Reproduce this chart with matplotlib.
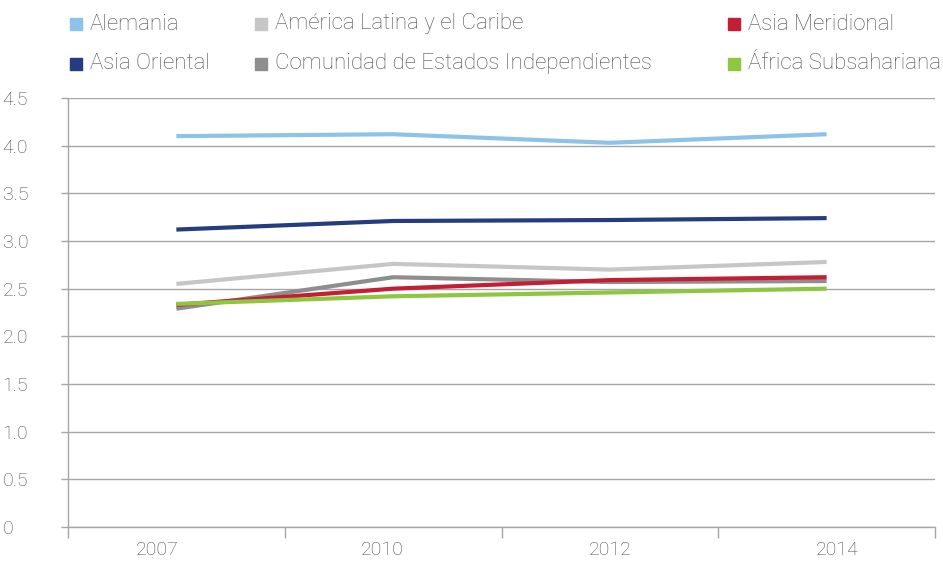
import matplotlib

matplotlib.use("Agg")
import matplotlib.pyplot as plt
from matplotlib.patches import Rectangle

plt.rcParams.update({"font.family": ["Roboto", "DejaVu Sans"], "font.weight": "light"})

years = ["2007", "2010", "2012", "2014"]
y_ticks = [0, 0.5, 1.0, 1.5, 2.0, 2.5, 3.0, 3.5, 4.0, 4.5]
y_labels = ["0", "0.5", "1.0", "1.5", "2.0", "2.5", "3.0", "3.5", "4.0", "4.5"]

alemania = [4.10, 4.12, 4.03, 4.12]
asia_oriental = [3.12, 3.21, 3.22, 3.24]
america_latina = [2.55, 2.76, 2.70, 2.78]
cei = [2.29, 2.62, 2.57, 2.58]
asia_meridional = [2.33, 2.50, 2.59, 2.62]
africa_sub = [2.34, 2.42, 2.46, 2.50]

series = [
    ("Alemania", alemania, "#8DC3E9"),
    ("Asia Oriental", asia_oriental, "#253C80"),
    ("América Latina y el Caribe", america_latina, "#C6C6C6"),
    ("Comunidad de Estados Independientes", cei, "#8E8E8E"),
    ("Asia Meridional", asia_meridional, "#C41E34"),
    ("África Subsahariana", africa_sub, "#8DC63F"),
]

text_color = "#4f4f4f"
axis_color = "#a6a6a6"

fig = plt.figure(figsize=(9.43, 5.61), dpi=100)
W, H = 943, 561
ax = fig.add_axes([68 / W, 1 - 527 / H, (935 - 68) / W, (527 - 98) / H])

x = range(len(years))
for name, vals, color in series:
    ax.plot(x, vals, color=color, lw=3.0, solid_capstyle="butt", zorder=3)

ax.set_xlim(-0.5, len(years) - 0.5)
ax.set_ylim(0, 4.5)
ax.set_yticks(y_ticks)
ax.set_yticklabels(y_labels)
# year labels sit slightly off the category centres, spread evenly
ax.set_xticks([-0.09, 0.95, 2.0, 3.05])
ax.set_xticklabels(years)
ax.set_xticks([i - 0.5 for i in range(len(years) + 1)], minor=True)
ax.tick_params(axis="x", which="major", length=0, pad=10, labelsize=14, colors=text_color)
ax.tick_params(axis="x", which="minor", length=8, width=1, color=axis_color, direction="out")
ax.tick_params(axis="y", length=5, width=1, color=axis_color, pad=42, labelsize=14,
               labelcolor=text_color)
for lbl in ax.get_yticklabels():
    lbl.set_horizontalalignment("left")

ax.grid(axis="y", color=axis_color, lw=1)
ax.set_axisbelow(True)
for side in ("top", "right"):
    ax.spines[side].set_visible(False)
for side in ("left", "bottom"):
    ax.spines[side].set_color(axis_color)
    ax.spines[side].set_linewidth(1)

# legend laid out in three columns above the plot
legend_pos = [(70, 24), (70, 64), (255, 24), (255, 64), (728, 24), (728, 64)]
for (name, vals, color), (lx, ly) in zip(series, legend_pos):
    fig.patches.append(Rectangle((lx / W, 1 - (ly + 6) / H), 12 / W, 12 / H,
                                 transform=fig.transFigure, color=color))
    fig.text((lx + 20) / W, 1 - ly / H, name, fontsize=16, color=text_color,
             va="center", ha="left")

fig.savefig("out.png", dpi=100)
